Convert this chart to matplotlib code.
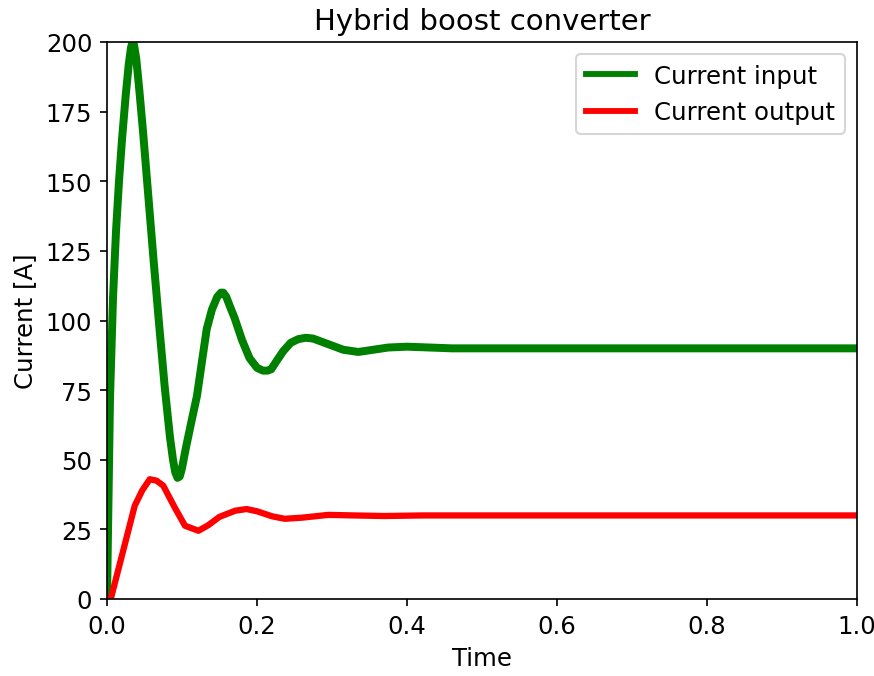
import matplotlib.pyplot as plt

# values
t_in = [0, 0.004, 0.008, 0.012, 0.016, 0.02, 0.025, 0.029, 0.032, 0.034, 0.036, 0.039,
        0.043, 0.048, 0.055, 0.062, 0.07, 0.077, 0.084, 0.088, 0.091, 0.094, 0.097,
        0.1, 0.105, 0.112, 0.12, 0.127, 0.133, 0.14, 0.147, 0.152, 0.155, 0.159,
        0.164, 0.17, 0.18, 0.19, 0.2, 0.208, 0.214, 0.219, 0.225, 0.235, 0.245, 0.255,
        0.265, 0.275, 0.285, 0.3, 0.315, 0.335, 0.355, 0.375, 0.4, 0.43, 0.46, 0.5, 1.0]
i_in = [0, 72, 108, 132, 150, 165, 181, 192, 198, 200, 199, 194,
        183, 168, 145, 122, 97, 76, 58, 50, 45.5, 43.5, 44,
        47, 54, 63, 73, 86, 97, 104, 108.5, 110, 110, 108.5,
        105, 101, 93, 86.5, 83, 82, 82, 82.5, 85, 89, 92, 93.3,
        93.8, 93.5, 92.5, 91, 89.5, 88.7, 89.5, 90.3, 90.6, 90.3, 90, 90, 90]

t_out = [0, 0.005, 0.037, 0.047, 0.057, 0.066, 0.075, 0.09, 0.104, 0.122, 0.135, 0.15,
         0.171, 0.186, 0.2, 0.22, 0.237, 0.26, 0.295, 0.33, 0.37, 0.42, 1.0]
i_out = [0, 0, 33.5, 39, 43, 42.5, 40.7, 33, 26.3, 24.5, 26.5, 29.5,
         31.7, 32.3, 31.5, 29.7, 28.8, 29.2, 30.2, 30.0, 29.8, 30, 30]

plt.rcParams['font.size'] = 11.6

dpi = 151
fig = plt.figure(figsize=(875 / dpi, 677 / dpi), dpi=dpi)
ax = fig.add_axes([107 / 875, 77 / 677, 750 / 875, 557 / 677])

ax.plot(t_in, i_in, color='green', lw=3.8, label='Current input')
ax.plot(t_out, i_out, color='red', lw=3, label='Current output')

ax.set_xlim(0, 1)
ax.set_ylim(0, 200)
ax.set_title('Hybrid boost converter')
ax.set_xlabel('Time')
ax.set_ylabel('Current [A]')
leg = ax.legend(loc='upper right')
for line in leg.get_lines():
    line.set_linewidth(2.8)

fig.savefig('out.png', dpi=dpi)
